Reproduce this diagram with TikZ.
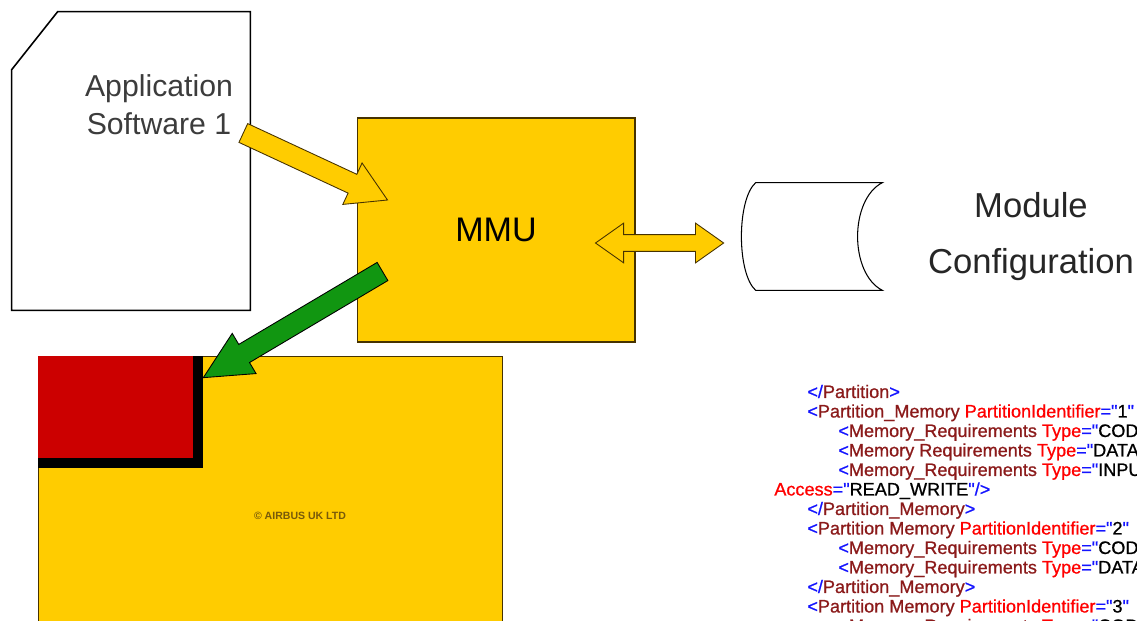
\documentclass[tikz,border=0pt]{standalone}
\usepackage{fontspec}
\setmainfont{Liberation Sans}
\newfontfamily\xmlfont{Liberation Sans}[Ligatures=TeXOff, FakeBold=0.8]
\usepackage{tikz}
\usetikzlibrary{calc,positioning}
\definecolor{mmuyellow}{RGB}{255,204,0}
\definecolor{partred}{RGB}{204,0,0}
\definecolor{arrowgreen}{RGB}{17,150,17}
\definecolor{edgebrown}{RGB}{70,50,0}
\definecolor{textgray}{RGB}{60,60,60}
\definecolor{copybrown}{RGB}{120,90,10}
\definecolor{xmlblue}{RGB}{20,20,255}
\definecolor{xmlmaroon}{RGB}{139,26,26}
\definecolor{xmlred}{RGB}{255,0,0}

% fat arrow: style, from, to, half shaft, half head, head length
\newcommand{\fatarrow}[6]{%
  \draw[#1] ($(#2)!#4!90:(#3)$) -- ($(#3)!#6!(#2)!#4!-90:(#2)$)
    -- ($(#3)!#6!(#2)!#5!-90:(#2)$) -- (#3)
    -- ($(#3)!#6!(#2)!#5!90:(#2)$) -- ($(#3)!#6!(#2)!#4!90:(#2)$)
    -- ($(#2)!#4!-90:(#3)$) -- cycle;}
% same with a head at both ends
\newcommand{\fatboth}[6]{%
  \draw[#1] (#2) -- ($(#2)!#6!(#3)!#5!90:(#3)$) -- ($(#2)!#6!(#3)!#4!90:(#3)$)
    -- ($(#3)!#6!(#2)!#4!-90:(#2)$) -- ($(#3)!#6!(#2)!#5!-90:(#2)$) -- (#3)
    -- ($(#3)!#6!(#2)!#5!90:(#2)$) -- ($(#3)!#6!(#2)!#4!90:(#2)$)
    -- ($(#2)!#6!(#3)!#4!-90:(#3)$) -- ($(#2)!#6!(#3)!#5!-90:(#3)$) -- cycle;}

% xml colouring
\newcommand{\xb}[1]{\textcolor{xmlblue}{#1}}
\newcommand{\xe}[1]{\textcolor{xmlmaroon}{#1}}
\newcommand{\xa}[1]{\textcolor{xmlred}{#1}}

\begin{document}
\begin{tikzpicture}[x=0.02cm, y=-0.02cm,
    docline/.style={draw=black, line width=0.9pt},
    label/.style={font=\fontsize{17.2}{21.5}\selectfont, align=center, text=textgray},
    yellowbox/.style={draw=edgebrown, line width=0.6pt, fill=mmuyellow, inner sep=0pt},
    yarrow/.style={draw=edgebrown, line width=0.5pt, fill=mmuyellow, line join=miter},
    garrow/.style={draw=black, line width=0.5pt, fill=arrowgreen, line join=miter},
    xml/.style={anchor=base west, inner sep=0pt, font=\xmlfont\fontsize{10.3}{12}\selectfont}
  ]
  \useasboundingbox (0,0) rectangle (1137,621);
  \clip (0,0) rectangle (1137,621);
  \fill[white] (0,0) rectangle (1137,621);

  % application software sheet
  \node[minimum width=4.76cm, minimum height=5.96cm, inner sep=0pt] (doc) at (131,161) {};
  \draw[docline, fill=white] ($(doc.north west)+(0,58)$) -- ($(doc.north west)+(46,0)$)
    -- (doc.north east) -- (doc.south east) -- (doc.south west) -- cycle;
  \node[label] (app) at (159,105) {Application\\Software 1};

  % mmu
  \node[yellowbox, minimum width=5.56cm, minimum height=4.48cm,
        font=\fontsize{19.4}{22}\selectfont] (mmu) at (496,230) {MMU};

  % module configuration store
  \node[minimum width=2.8cm, minimum height=2.14cm, inner sep=0pt] (store) at (812,236.5) {};
  \draw[line width=0.6pt] ($(store.north west)+(14,0)$) -- (store.north east)
    .. controls +(-33,17) and +(-33,-17) .. (store.south east)
    -- ($(store.south west)+(14,0)$)
    .. controls +(-19,-17) and +(-19,17) .. ($(store.north west)+(14,0)$) -- cycle;
  \node[font=\fontsize{19.7}{31.9}\selectfont, align=center, text=black!85] (config)
    at (1031,237) {Module\\Configuration};

  % memory and partition
  \node[yellowbox, minimum width=9.3cm, minimum height=6.88cm] (memory) at (270.5,528) {};
  \node[minimum width=3.1cm, minimum height=2.04cm, inner sep=0pt] (part) at (115.5,407) {};
  \fill[black] (part.north west) rectangle ($(part.south east)+(10,10)$);
  \fill[partred] (part.north west) rectangle (part.south east);
  \node[font=\bfseries\fontsize{6}{7}\selectfont, text=copybrown] (copy) at (300,516)
    {\textcopyright{} AIRBUS UK LTD};

  % arrows
  \coordinate (appout) at ($(doc.east)+(-7,-28)$);
  \coordinate (mmuin) at ($(mmu.west)+(31,-30)$);
  \coordinate (mmuout) at ($(mmu.south west)+(26,-71)$);
  \coordinate (partin) at ($(part.north east)+(10,22)$);
  \coordinate (mmuside) at ($(mmu.east)+(-40,13)$);
  \coordinate (storeside) at ($(store.west)+(-18,6.5)$);
  \fatarrow{yarrow}{appout}{mmuin}{5.9pt}{13pt}{22pt}
  \fatarrow{garrow}{mmuout}{partin}{6pt}{13.3pt}{27pt}
  \fatboth{yarrow}{mmuside}{storeside}{4.8pt}{11.3pt}{16pt}

  % xml listing
  \node[xml] (x1) at (807,398) {\xb{</}\xe{Partition}\xb{>}};
  \node[xml] (x2) at (807,417.5) {\xb{<}\xe{Partition\_Memory} \xa{PartitionIdentifier}\xb{="}1\xb{"}};
  \node[xml] (x3) at (838,437) {\xb{<}\xe{Memory\_Requirements} \xa{Type}\xb{="}CODE};
  \node[xml] (x4) at (838,456.5) {\xb{<}\xe{Memory Requirements} \xa{Type}\xb{="}DATA};
  \node[xml] (x5) at (838,476) {\xb{<}\xe{Memory\_Requirements} \xa{Type}\xb{="}INPUT};
  \node[xml] (x6) at (774,495.5) {\xa{Access}\xb{="}READ\_WRITE\xb{"/>}};
  \node[xml] (x7) at (807,515) {\xb{</}\xe{Partition\_Memory}\xb{>}};
  \node[xml] (x8) at (807,534.5) {\xb{<}\xe{Partition Memory} \xa{PartitionIdentifier}\xb{="}2\xb{"}};
  \node[xml] (x9) at (838,554) {\xb{<}\xe{Memory\_Requirements} \xa{Type}\xb{="}CODE};
  \node[xml] (x10) at (838,573.5) {\xb{<}\xe{Memory\_Requirements} \xa{Type}\xb{="}DATA};
  \node[xml] (x11) at (807,593) {\xb{</}\xe{Partition\_Memory}\xb{>}};
  \node[xml] (x12) at (807,612.5) {\xb{<}\xe{Partition Memory} \xa{PartitionIdentifier}\xb{="}3\xb{"}};
  \node[xml] (x13) at (838,632) {\xb{<}\xe{Memory\_Requirements} \xa{Type}\xb{="}CODE};
\end{tikzpicture}
\end{document}
